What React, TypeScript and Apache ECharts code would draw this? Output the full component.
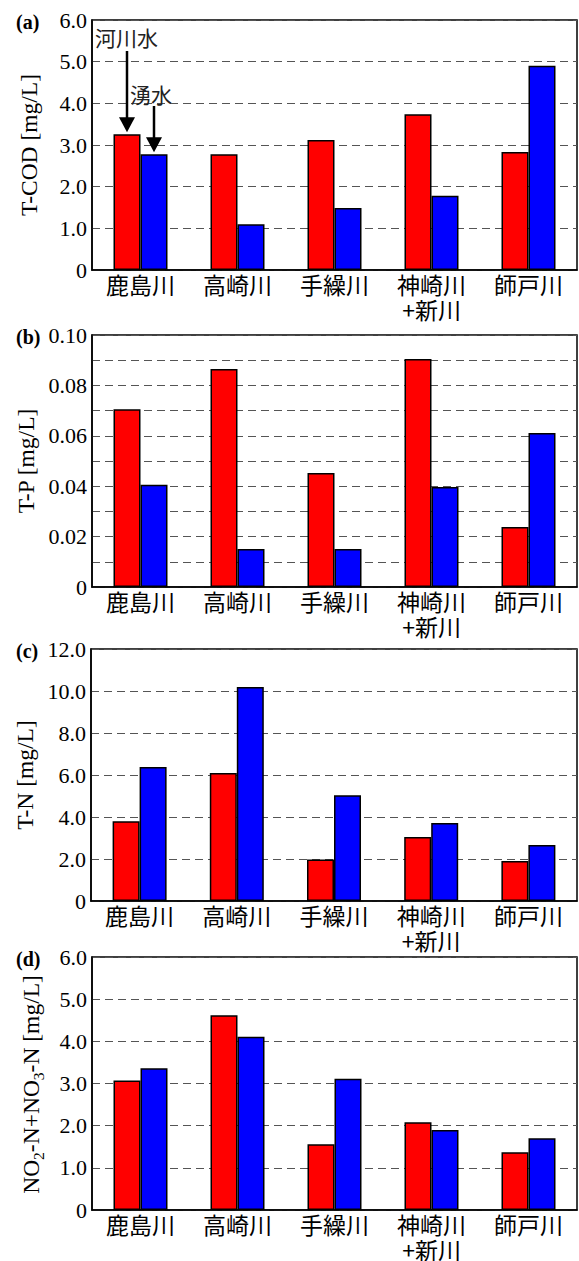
import React, { useEffect, useRef } from "react";
import * as echarts from "echarts";

const categories = ["鹿島川", "高崎川", "手繰川", "神崎川\n+新川", "師戸川"];
const codRiver = [3.26, 2.78, 3.12, 3.74, 2.83];
const codSpring = [2.78, 1.1, 1.49, 1.78, 4.9];
const tpRiver = [0.0705, 0.0865, 0.0452, 0.0905, 0.0238];
const tpSpring = [0.0406, 0.0151, 0.0151, 0.0397, 0.0611];
const tnRiver = [3.8, 6.1, 1.98, 3.05, 1.9];
const tnSpring = [6.38, 10.19, 5.03, 3.71, 2.67];
const noxRiver = [3.07, 4.62, 1.56, 2.08, 1.37];
const noxSpring = [3.36, 4.11, 3.11, 1.9, 1.7];
const panelLabels = ["(a)", "(b)", "(c)", "(d)"];
const seriesNames = ["河川水", "湧水"];
// (d) axis title pieces: [text, isSubscript]
const noxTitle: [string, boolean][] = [
  ["NO", false],
  ["2", true],
  ["-N+NO", false],
  ["3", true],
  ["-N [mg/L]", false],
];

const SERIF = "'Liberation Serif', 'Times New Roman', serif";
const SANS = "'Noto Sans CJK JP', 'Noto Sans', sans-serif";
const NAME_FS = 23.5;
const SUB_FS = 15.5;

const grids = [
  { left: 92, top: 20, width: 485, height: 250 },
  { left: 92, top: 335, width: 485, height: 252 },
  { left: 91, top: 649, width: 486, height: 252 },
  { left: 92, top: 957, width: 485, height: 255 },
];

const yAxes = [
  { max: 6, interval: 1, name: "T-COD [mg/L]", gap: 51, fmt: (v: number) => (v === 0 ? "0" : v.toFixed(1)) },
  {
    max: 0.1,
    interval: 0.01,
    name: "T-P [mg/L]",
    gap: 51,
    fmt: (v: number) => {
      const k = Math.round(v * 100);
      if (k === 0) return "0";
      return k % 2 === 0 ? (k / 100).toFixed(2) : "";
    },
  },
  { max: 12, interval: 2, name: "T-N [mg/L]", gap: 50, fmt: (v: number) => (v === 0 ? "0" : v.toFixed(1)) },
  { max: 6, interval: 1, name: "", gap: 50, fmt: (v: number) => (v === 0 ? "0" : v.toFixed(1)) },
];

const dataSets = [
  [codRiver, codSpring],
  [tpRiver, tpSpring],
  [tnRiver, tnSpring],
  [noxRiver, noxSpring],
];

function measure(text: string, size: number): number {
  const c = document.createElement("canvas").getContext("2d");
  if (!c) return text.length * size * 0.5;
  c.font = `${size}px 'Liberation Serif'`;
  return c.measureText(text).width;
}

export default function App() {
  const ref = useRef<HTMLDivElement>(null);
  useEffect(() => {
    if (!ref.current) return;
    const chart = echarts.init(ref.current, undefined, { renderer: "svg" });
    const option: any = {
      animation: false,
      backgroundColor: "#fff",
      grid: grids.map((g) => ({ ...g, show: true, borderColor: "#000", borderWidth: 1.5, backgroundColor: "transparent" })),
      xAxis: grids.map((_, i) => ({
        type: "category",
        gridIndex: i,
        data: categories,
        axisLine: { show: true, lineStyle: { color: "#000", width: 1.5 } },
        axisTick: { show: false },
        axisLabel: {
          color: "#000",
          fontFamily: SANS,
          fontSize: 23,
          lineHeight: 25,
          margin: 1,
          interval: 0,
        },
      })),
      yAxis: yAxes.map((y, i) => ({
        type: "value",
        gridIndex: i,
        min: 0,
        max: y.max,
        interval: y.interval,
        name: y.name,
        nameLocation: "middle",
        nameGap: y.gap,
        nameTextStyle: { color: "#000", fontFamily: SERIF, fontSize: NAME_FS },
        axisLine: { show: true, lineStyle: { color: "#000", width: 1.5 } },
        axisTick: { show: false },
        axisLabel: { color: "#000", fontFamily: SERIF, fontSize: 22, margin: 5, formatter: y.fmt },
        splitLine: { show: true, lineStyle: { color: "#555", width: 1.2, type: [8, 5] } },
      })),
      series: dataSets.flatMap((ds, i) =>
        ds.map((vals, j) => ({
          type: "bar",
          name: seriesNames[j],
          xAxisIndex: i,
          yAxisIndex: i,
          data: vals,
          barWidth: 27,
          barGap: "0%",
          itemStyle: { color: j === 0 ? "#ff0000" : "#0000ff", borderColor: "#000", borderWidth: 1.5 },
        }))
      ),
    };
    chart.setOption(option);

    const graphics: any[] = panelLabels.map((t, i) => ({
      type: "text",
      left: 16,
      top: grids[i].top - 8,
      style: { text: t, fontFamily: SERIF, fontSize: 20, fontWeight: "bold", fill: "#000" },
    }));

    // (d) axis title with subscripts, rotated
    const widths = noxTitle.map(([t, sub]) => measure(t, sub ? SUB_FS : NAME_FS));
    const total = widths.reduce((a, b) => a + b, 0);
    let cx = -total / 2;
    const children: any[] = noxTitle.map(([t, sub], k) => {
      const el = {
        type: "text",
        x: cx,
        y: sub ? 7 : 0,
        style: {
          text: t,
          fontFamily: SERIF,
          fontSize: sub ? SUB_FS : NAME_FS,
          fill: "#000",
          textAlign: "left",
          textVerticalAlign: "middle",
        },
      };
      cx += widths[k];
      return el;
    });
    const g3 = grids[3];
    graphics.push({
      type: "group",
      x: 31,
      y: g3.top + g3.height / 2,
      rotation: Math.PI / 2,
      children,
    });

    // Annotation arrows pointing to the first category's bars in panel (a)
    const barHalf = 13.5;
    [0, 1].forEach((j) => {
      const val = dataSets[0][j][0];
      const p = chart.convertToPixel({ xAxisIndex: 0, yAxisIndex: 0 }, [0, val]) as number[];
      const x = p[0] + (j === 0 ? -barHalf : barHalf);
      const tipY = p[1] - 2;
      const startY = j === 0 ? 51 : 106;
      const headH = 15;
      const headW = 8;
      graphics.push({
        type: "line",
        shape: { x1: x, y1: startY, x2: x, y2: tipY - headH + 1 },
        style: { stroke: "#000", lineWidth: 2.5 },
      });
      graphics.push({
        type: "polygon",
        shape: { points: [[x - headW, tipY - headH], [x + headW, tipY - headH], [x, tipY]] },
        style: { fill: "#000" },
      });
      graphics.push({
        type: "text",
        x: j === 0 ? 95 : 130,
        y: j === 0 ? 26 : 83,
        style: { text: seriesNames[j], fontFamily: SANS, fontSize: 21, fill: "#222" },
      });
    });
    chart.setOption({ graphic: graphics });

    return () => chart.dispose();
  }, []);
  return <div ref={ref} style={{ position: "absolute", left: 0, top: 0, width: 579, height: 1261 }} />;
}
